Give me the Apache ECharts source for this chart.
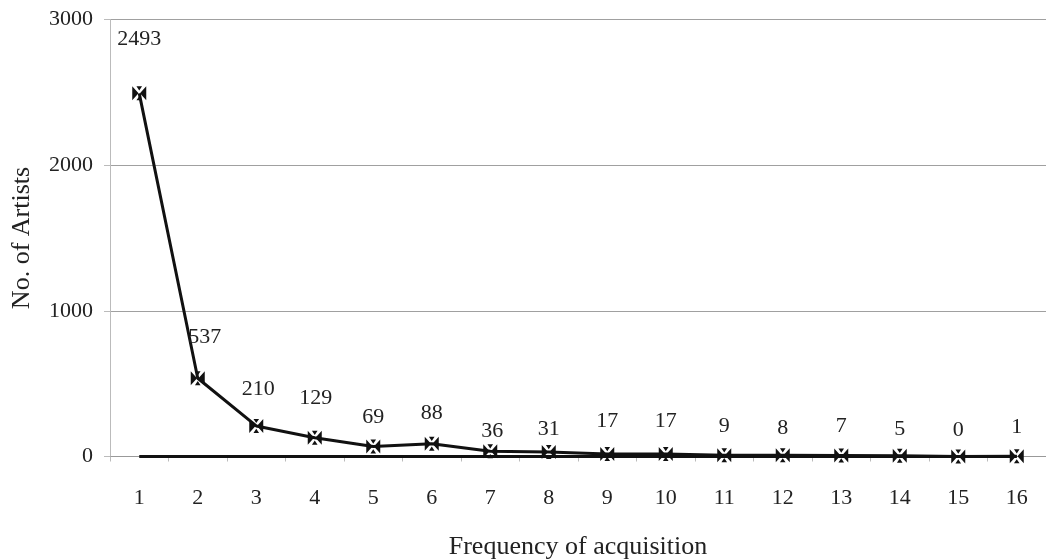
<!DOCTYPE html>
<html>
<head>
<meta charset="utf-8">
<script src="https://cdn.jsdelivr.net/npm/echarts@6/dist/echarts.min.js"></script>
<style>
  html, body { margin: 0; padding: 0; background: #fff; }
  #chart { width: 1046px; height: 560px; }
</style>
</head>
<body>
<div id="chart"></div>
<script>
// Number of artists by how often their work was acquired
const categories = ['1','2','3','4','5','6','7','8','9','10','11','12','13','14','15','16'];
const artists = [2493, 537, 210, 129, 69, 88, 36, 31, 17, 17, 9, 8, 7, 5, 0, 1];
const baseline = [0, 0, 0, 0, 0, 0, 0, 0, 0, 0, 0, 0, 0, 0, 0, 0];
const yTicks = [0, 1000, 2000, 3000];

// hand-tuned label lift above each marker (px)
const labelLift = [36, 23, 19, 21, 11, 12, 2, 5, 15, 15, 11, 9, 11, 9, 8, 11];
const labelShiftX = [0, 7, 2, 1, 0, 0, 2, 0, 0, 0, 0, 0, 0, 0, 0, 0];

const serif = '"Liberation Serif", "DejaVu Serif", serif';
const markerPath = 'path://M0,0L4.5,5L0,10Z M10,0L5.5,5L10,10Z M3,0L7,0L5,3Z M3,10L7,10L5,7Z';

const chart = echarts.init(document.getElementById('chart'));
chart.setOption({
  animation: false,
  backgroundColor: '#fff',
  grid: {
    left: 110, right: 0, top: 19.5, bottom: 103.5,
    containLabel: false, outerBoundsMode: 'none'
  },
  xAxis: {
    type: 'category',
    data: categories,
    boundaryGap: true,
    name: 'Frequency of acquisition',
    nameLocation: 'middle',
    nameGap: 78,
    nameTextStyle: { fontFamily: serif, fontSize: 26, color: '#222' },
    axisLine: { show: true, lineStyle: { color: '#999', width: 1 } },
    axisTick: { show: true, length: 5, lineStyle: { color: '#bbb' } },
    axisLabel: { fontFamily: serif, fontSize: 22, color: '#222', margin: 31 }
  },
  yAxis: {
    type: 'value',
    min: 0,
    max: 3000,
    interval: 1000,
    name: 'No. of Artists',
    nameLocation: 'middle',
    nameGap: 75,
    nameRotate: 90,
    nameTextStyle: { fontFamily: serif, fontSize: 26, color: '#222' },
    axisLine: { show: true, lineStyle: { color: '#bbb', width: 1 } },
    axisTick: { show: true, length: 6, lineStyle: { color: '#bbb' } },
    splitLine: { show: true, lineStyle: { color: '#a0a0a0', width: 1 } },
    axisLabel: {
      fontFamily: serif, fontSize: 22, color: '#222', margin: 17,
      formatter: v => (yTicks.includes(v) ? String(v) : '')
    }
  },
  series: [
    {
      type: 'line',
      data: baseline,
      symbol: 'none',
      lineStyle: { color: '#111', width: 3 },
      z: 2
    },
    {
      type: 'line',
      data: artists.map((v, i) => ({
        value: v,
        label: { distance: labelLift[i], offset: [labelShiftX[i], 0] }
      })),
      symbol: markerPath,
      symbolSize: 14,
      itemStyle: { color: '#111' },
      lineStyle: { color: '#111', width: 3 },
      label: {
        show: true,
        position: 'top',
        fontFamily: serif,
        fontSize: 22,
        color: '#222'
      },
      z: 3
    }
  ]
});
</script>
</body>
</html>
